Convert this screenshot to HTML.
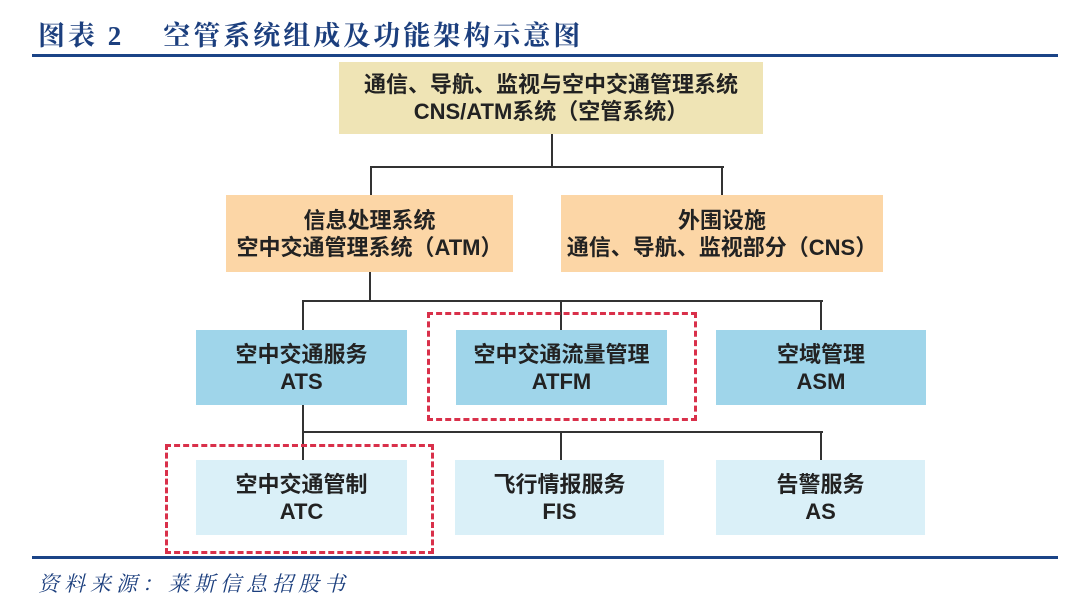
<!DOCTYPE html>
<html><head><meta charset="utf-8"><style>
body{margin:0;width:1080px;height:612px;background:#fff;position:relative;overflow:hidden;font-family:"Liberation Sans","Noto Sans CJK SC",sans-serif}
.t{position:absolute;left:38px;top:14px;font-family:"Liberation Serif","Noto Serif CJK SC",serif;font-weight:bold;font-size:27px;color:#1c3f7e;letter-spacing:3px;white-space:pre}
.hl{position:absolute;left:32px;width:1026px;height:3px;background:#1b4487}
.b{position:absolute;display:flex;flex-direction:column;justify-content:center;align-items:center;font-weight:bold;font-size:22px;line-height:27px;color:#222;text-align:center;white-space:nowrap}
.y{background:#efe4b5}.o{background:#fcd6a6}.c{background:#9fd5ea}.l{background:#daf0f8}
.v{position:absolute;width:2px;background:#333}.h{position:absolute;height:2px;background:#333}
.d{position:absolute;border:3px dashed #d9304a}
.s{position:absolute;left:38px;top:568px;font-family:"Liberation Serif","Noto Serif CJK SC",serif;font-style:italic;font-size:21px;letter-spacing:5px;color:#1c3f7e}
</style></head><body>
<div class="t">图表 2    空管系统组成及功能架构示意图</div>
<div class="hl" style="top:54px"></div>
<div class="b y" style="left:339px;top:62px;width:424px;height:72px">通信、导航、监视与空中交通管理系统<br>CNS/ATM系统（空管系统）</div>
<div class="v" style="left:551px;top:134px;height:34px"></div>
<div class="h" style="left:370px;top:166px;width:354px"></div>
<div class="v" style="left:370px;top:166px;height:29px"></div>
<div class="v" style="left:721px;top:166px;height:29px"></div>
<div class="b o" style="left:226px;top:195px;width:287px;height:77px">信息处理系统<br>空中交通管理系统（ATM）</div>
<div class="b o" style="left:561px;top:195px;width:322px;height:77px">外围设施<br>通信、导航、监视部分（CNS）</div>
<div class="v" style="left:369px;top:272px;height:30px"></div>
<div class="h" style="left:302px;top:300px;width:521px"></div>
<div class="v" style="left:302px;top:300px;height:30px"></div>
<div class="v" style="left:560px;top:300px;height:30px"></div>
<div class="v" style="left:820px;top:300px;height:30px"></div>
<div class="b c" style="left:196px;top:330px;width:211px;height:75px">空中交通服务<br>ATS</div>
<div class="b c" style="left:456px;top:330px;width:211px;height:75px">空中交通流量管理<br>ATFM</div>
<div class="b c" style="left:716px;top:330px;width:210px;height:75px">空域管理<br>ASM</div>
<div class="d" style="left:427px;top:312px;width:264px;height:103px"></div>
<div class="v" style="left:302px;top:405px;height:55px"></div>
<div class="h" style="left:302px;top:431px;width:521px"></div>
<div class="v" style="left:560px;top:431px;height:29px"></div>
<div class="v" style="left:820px;top:431px;height:29px"></div>
<div class="b l" style="left:196px;top:460px;width:211px;height:75px">空中交通管制<br>ATC</div>
<div class="b l" style="left:455px;top:460px;width:209px;height:75px">飞行情报服务<br>FIS</div>
<div class="b l" style="left:716px;top:460px;width:209px;height:75px">告警服务<br>AS</div>
<div class="d" style="left:165px;top:444px;width:263px;height:104px"></div>
<div class="hl" style="top:556px"></div>
<div class="s">资料来源：莱斯信息招股书</div>
</body></html>
